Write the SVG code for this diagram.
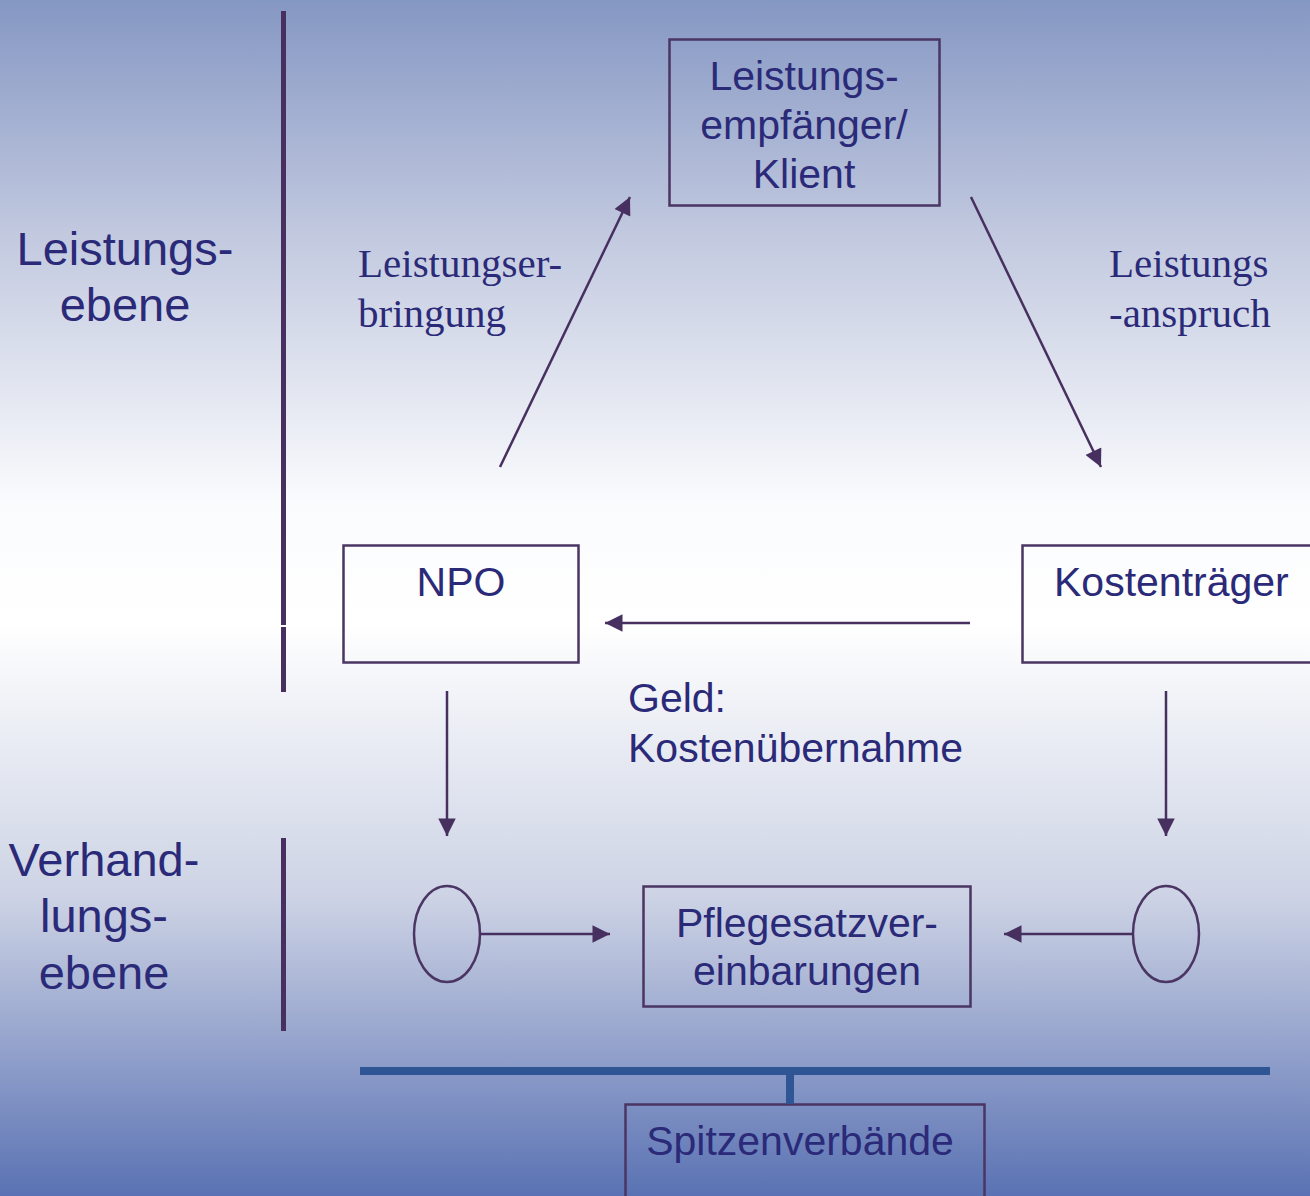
<svg xmlns="http://www.w3.org/2000/svg" width="1310" height="1196" viewBox="0 0 1310 1196">
<defs>
<linearGradient id="bg" x1="0" y1="0" x2="0" y2="1">
<stop offset="0" stop-color="#8597c3"/>
<stop offset="0.2" stop-color="#c3cae0"/>
<stop offset="0.42" stop-color="#fafbfd"/>
<stop offset="0.52" stop-color="#ffffff"/>
<stop offset="0.75" stop-color="#cdd3e5"/>
<stop offset="1" stop-color="#5a72b3"/>
</linearGradient>
<marker id="ah" viewBox="0 0 10 10" refX="10" refY="5" markerWidth="8" markerHeight="7" orient="auto" markerUnits="strokeWidth">
<path d="M0,0 L10,5 L0,10 z" fill="#47305f"/>
</marker>
<style>
.box{fill:none;stroke:#4a3563;stroke-width:2.5}
.conn{stroke:#47305f;stroke-width:2.5;fill:none}
.sans{font-family:"Liberation Sans",Arial,sans-serif;fill:#2b2a78;font-size:41px}
.lvl{font-size:47px}
.serif{font-family:"Liberation Serif","Times New Roman",serif;fill:#2b2a78;font-size:41px}
.bar{fill:#47305f}
</style>
</defs>
<rect width="1310" height="1196" fill="url(#bg)"/>
<g id="dividers">
<rect class="bar" x="281" y="11" width="5" height="614"/>
<rect class="bar" x="281" y="627" width="5" height="65"/>
<rect class="bar" x="281" y="838" width="5" height="193"/>
</g>
<g id="level-labels">
<text class="sans lvl" text-anchor="middle" x="125" y="265">Leistungs-</text>
<text class="sans lvl" text-anchor="middle" x="125" y="321">ebene</text>
<text class="sans lvl" text-anchor="middle" x="104" y="876">Verhand-</text>
<text class="sans lvl" text-anchor="middle" x="104" y="932">lungs-</text>
<text class="sans lvl" text-anchor="middle" x="104" y="989">ebene</text>
</g>
<g id="klient">
<rect class="box" x="669.5" y="39.5" width="270" height="166"/>
<text class="sans" text-anchor="middle" x="804" y="90">Leistungs-</text>
<text class="sans" text-anchor="middle" x="804" y="139">empfänger/</text>
<text class="sans" text-anchor="middle" x="804" y="188">Klient</text>
</g>
<g id="npo">
<rect class="box" x="343.5" y="545.5" width="235" height="117"/>
<text class="sans" text-anchor="middle" x="461" y="596">NPO</text>
</g>
<g id="kostentraeger">
<rect class="box" x="1022.5" y="545.5" width="300" height="117"/>
<text class="sans" x="1054" y="596">Kostenträger</text>
</g>
<g id="pflegesatz">
<rect class="box" x="643.5" y="886.5" width="327" height="120"/>
<text class="sans" text-anchor="middle" x="807" y="937">Pflegesatzver-</text>
<text class="sans" text-anchor="middle" x="807" y="985">einbarungen</text>
</g>
<g id="spitzenverbaende">
<rect class="box" x="625.5" y="1104.5" width="359" height="110"/>
<text class="sans" text-anchor="middle" x="800" y="1155">Spitzenverbände</text>
</g>
<g id="ellipse-left"><ellipse class="box" cx="447" cy="934" rx="33" ry="48"/></g>
<g id="ellipse-right"><ellipse class="box" cx="1166" cy="934" rx="33" ry="48"/></g>
<g id="connectors">
<line class="conn" x1="500" y1="467" x2="630" y2="197" marker-end="url(#ah)"/>
<line class="conn" x1="971" y1="197" x2="1101" y2="467" marker-end="url(#ah)"/>
<line class="conn" x1="970" y1="623" x2="605" y2="623" marker-end="url(#ah)"/>
<line class="conn" x1="447" y1="691" x2="447" y2="836" marker-end="url(#ah)"/>
<line class="conn" x1="1166" y1="691" x2="1166" y2="836" marker-end="url(#ah)"/>
<line class="conn" x1="480" y1="934" x2="610" y2="934" marker-end="url(#ah)"/>
<line class="conn" x1="1133" y1="934" x2="1004" y2="934" marker-end="url(#ah)"/>
<rect x="360" y="1067" width="910" height="8" fill="#2f5594"/>
<rect x="786" y="1071" width="8" height="33" fill="#2f5594"/>
</g>
<g id="connector-labels">
<text class="serif" x="358" y="277">Leistungser-</text>
<text class="serif" x="358" y="327">bringung</text>
<text class="serif" x="1109" y="277">Leistungs</text>
<text class="serif" x="1109" y="327">-anspruch</text>
<text class="sans" x="628" y="712">Geld:</text>
<text class="sans" x="628" y="762">Kostenübernahme</text>
</g>
</svg>
